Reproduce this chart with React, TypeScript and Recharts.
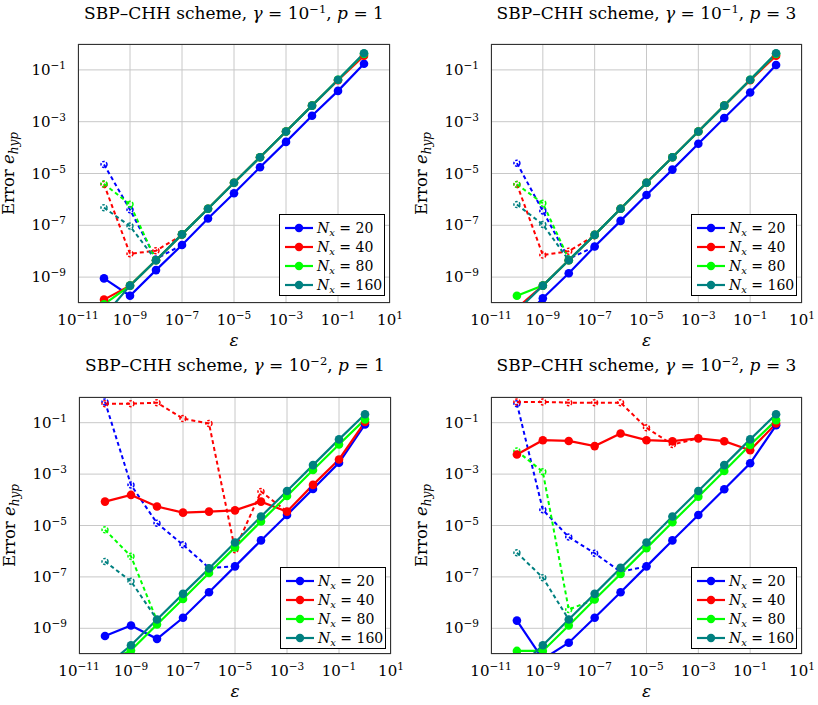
import { LineChart, Line, XAxis, YAxis, CartesianGrid, Legend } from 'recharts';

// eps exponents (x = 10^e)
const EPS_EXP = [-10, -9, -8, -7, -6, -5, -4, -3, -2, -1, 0];
const NX = [20, 40, 80, 160];
const COLORS = ['#0000ff', '#ff0000', '#00ff00', '#008080'];

// all values are log10 of the error
// gamma = 1e-1, p = 1
const G1P1_N20 = [-9.05, -9.72, -8.73, -7.76, -6.74, -5.76, -4.76, -3.78, -2.77, -1.81, -0.76];
const G1P1_N40 = [-9.87, -9.33, -8.35, -7.35, -6.36, -5.36, -4.37, -3.38, -2.38, -1.4, -0.45];
const G1P1_N80 = [-10.05, -9.33, -8.35, -7.35, -6.36, -5.36, -4.37, -3.38, -2.38, -1.38, -0.38];
const G1P1_N160 = [-10.5, -9.33, -8.35, -7.35, -6.36, -5.36, -4.37, -3.38, -2.38, -1.38, -0.36];
const G1P1_D20 = [-4.65, -6.4, -8.3, -7.76, null, null, null, null, null, null, null];
const G1P1_D40 = [-5.42, -8.1, -7.98, -7.38, null, null, null, null, null, null, null];
const G1P1_D80 = [-5.4, -6.19, -8.35, null, null, null, null, null, null, null, null];
const G1P1_D160 = [-6.32, -7.03, -8.35, null, null, null, null, null, null, null, null];

// gamma = 1e-1, p = 3
const G1P3_N20 = [-10.8, -9.82, -8.85, -7.82, -6.83, -5.83, -4.85, -3.85, -2.86, -1.87, -0.81];
const G1P3_N40 = [-10.2, -9.33, -8.35, -7.37, -6.36, -5.36, -4.37, -3.38, -2.38, -1.4, -0.45];
const G1P3_N80 = [-9.72, -9.33, -8.35, -7.37, -6.36, -5.36, -4.37, -3.38, -2.38, -1.38, -0.38];
const G1P3_N160 = [-10.3, -9.33, -8.35, -7.37, -6.36, -5.36, -4.37, -3.38, -2.38, -1.38, -0.36];
const G1P3_D20 = [-4.6, -6.45, -8.3, -7.82, null, null, null, null, null, null, null];
const G1P3_D40 = [-5.42, -8.15, -8.0, -7.4, null, null, null, null, null, null, null];
const G1P3_D80 = [-5.42, -6.15, -8.3, null, null, null, null, null, null, null, null];
const G1P3_D160 = [-6.2, -6.97, -8.35, null, null, null, null, null, null, null, null];

// gamma = 1e-2, p = 1
const G2P1_N20 = [-9.3, -8.89, -9.41, -8.59, -7.6, -6.59, -5.58, -4.59, -3.58, -2.56, -1.07];
const G2P1_N40 = [-4.07, -3.81, -4.26, -4.5, -4.46, -4.41, -4.07, -4.46, -3.42, -2.43, -0.97];
const G2P1_N80 = [-10.33, -9.86, -8.85, -7.86, -6.85, -5.85, -4.84, -3.85, -2.84, -1.85, -0.87];
const G2P1_N160 = [-10.5, -9.66, -8.66, -7.66, -6.67, -5.66, -4.65, -3.66, -2.65, -1.65, -0.67];
const G2P1_D20 = [-0.19, -3.42, -4.91, -5.75, -6.65, -6.59, null, null, null, null, null];
const G2P1_D40 = [-0.26, -0.26, -0.22, -0.84, -1.03, -5.94, -3.68, -4.46, null, null, null];
const G2P1_D80 = [-5.17, -6.2, -8.7, null, null, null, null, null, null, null, null];
const G2P1_D160 = [-6.4, -7.17, -8.66, null, null, null, null, null, null, null, null];

// gamma = 1e-2, p = 3
const G2P3_N20 = [-8.7, -10.2, -9.56, -8.59, -7.6, -6.59, -5.58, -4.59, -3.59, -2.58, -1.1];
const G2P3_N40 = [-2.24, -1.68, -1.71, -1.91, -1.42, -1.68, -1.72, -1.61, -1.72, -2.07, -1.03];
const G2P3_N80 = [-9.88, -9.88, -8.89, -7.88, -6.89, -5.88, -4.87, -3.88, -2.88, -1.87, -0.9];
const G2P3_N160 = [-10.6, -9.66, -8.66, -7.66, -6.65, -5.66, -4.65, -3.66, -2.65, -1.65, -0.67];
const G2P3_D20 = [-0.26, -4.39, -5.45, -6.08, -6.8, -6.59, null, null, null, null, null];
const G2P3_D40 = [-0.19, -0.19, -0.22, -0.22, -0.22, -1.2, -1.85, -1.61, null, null, null];
const G2P3_D80 = [-2.1, -2.91, -8.27, -7.88, null, null, null, null, null, null, null];
const G2P3_D160 = [-6.06, -7.03, -8.66, null, null, null, null, null, null, null, null];

const X_TICKS = [1e-11, 1e-9, 1e-7, 1e-5, 1e-3, 1e-1, 10];
const Y_TICKS = [1e-9, 1e-7, 1e-5, 1e-3, 1e-1];

const FONT = '"DejaVu Serif", "Liberation Serif", serif';
const W = 409;
const H = 352;

const panels = [
  { left: 0, top: 0, gamma: '−1', p: 1, plot: { l: 78, t: 44, r: 19, b: 49 },
    solid: [G1P1_N20, G1P1_N40, G1P1_N80, G1P1_N160], dashed: [G1P1_D20, G1P1_D40, G1P1_D80, G1P1_D160] },
  { left: 409, top: 0, gamma: '−1', p: 3, plot: { l: 82, t: 44, r: 16, b: 49 },
    solid: [G1P3_N20, G1P3_N40, G1P3_N80, G1P3_N160], dashed: [G1P3_D20, G1P3_D40, G1P3_D80, G1P3_D160] },
  { left: 0, top: 352, gamma: '−2', p: 1, plot: { l: 79, t: 45, r: 18, b: 50 },
    solid: [G2P1_N20, G2P1_N40, G2P1_N80, G2P1_N160], dashed: [G2P1_D20, G2P1_D40, G2P1_D80, G2P1_D160] },
  { left: 409, top: 352, gamma: '−2', p: 3, plot: { l: 82, t: 45, r: 16, b: 50 },
    solid: [G2P3_N20, G2P3_N40, G2P3_N80, G2P3_N160], dashed: [G2P3_D20, G2P3_D40, G2P3_D80, G2P3_D160] },
];

const expLabel = (v: number) => {
  const e = Math.round(Math.log10(v));
  return e < 0 ? `−${-e}` : `${e}`;
};

const XTick = ({ x, y, payload }: any) => (
  <text x={x} y={y + 14} textAnchor="middle" fontSize={15} fill="#000" fontFamily={FONT}>
    10<tspan dy={-6} fontSize={10.5}>{expLabel(payload.value)}</tspan>
  </text>
);

const YTick = ({ x, y, payload }: any) => (
  <text x={x - 4} y={y + 5} textAnchor="end" fontSize={15} fill="#000" fontFamily={FONT}>
    10<tspan dy={-6} fontSize={10.5}>{expLabel(payload.value)}</tspan>
  </text>
);

const LegendBox = ({ payload }: any) => {
  const items = (payload || [])
    .filter((it: any) => it.type !== 'none' && !String(it.value).startsWith('d'))
    .sort((a: any, b: any) => Number(a.value) - Number(b.value));
  return (
    <div style={{ border: '1px solid #000', background: '#fff', width: 106, height: 82, boxSizing: 'border-box', padding: '3px 0 0 5px', fontFamily: FONT }}>
      {items.map((it: any) => (
        <div key={it.value} style={{ display: 'flex', alignItems: 'center', height: 19 }}>
          <svg width={28} height={10}>
            <line x1={0} y1={5} x2={28} y2={5} stroke={it.color} strokeWidth={2.2} />
            <circle cx={14} cy={5} r={4.2} fill={it.color} />
          </svg>
          <span style={{ marginLeft: 4, fontSize: 14, color: '#000', whiteSpace: 'nowrap' }}>
            <i>N</i><i style={{ fontSize: 10, position: 'relative', top: 3 }}>x</i> = {it.value}
          </span>
        </div>
      ))}
    </div>
  );
};

function Panel({ cfg }: { cfg: typeof panels[number] }) {
  const { l, t, r, b } = cfg.plot;
  const pw = W - l - r;
  const ph = H - t - b;
  const data = EPS_EXP.map((e, i) => {
    const row: any = { eps: 10 ** e };
    cfg.solid.forEach((s, k) => { row[`s${k}`] = 10 ** s[i]; });
    cfg.dashed.forEach((d, k) => { row[`d${k}`] = d[i] == null ? null : 10 ** (d[i] as number); });
    return row;
  });

  return (
    <div style={{ position: 'absolute', left: cfg.left, top: cfg.top, width: W, height: H, fontFamily: FONT }}>
      <div style={{ position: 'absolute', left: l - 30, width: pw + 60, top: 3, textAlign: 'center', fontSize: 17, lineHeight: '20px', whiteSpace: 'nowrap', color: '#000' }}>
        SBP–CHH scheme, <i>γ</i> = 10<span style={{ fontSize: 11.5, position: 'relative', top: -6 }}>{cfg.gamma}</span>, <i>p</i> = {cfg.p}
      </div>
      <LineChart width={W} height={H} data={data} margin={{ top: t, right: r, left: l - 60, bottom: b - 30 }}>
        <CartesianGrid stroke="#c8c8c8" strokeWidth={1} />
        <XAxis
          dataKey="eps"
          type="number"
          scale="log"
          domain={[1e-11, 10]}
          ticks={X_TICKS}
          allowDataOverflow
          height={30}
          axisLine={false}
          tickLine={false}
          tick={<XTick />}
          interval={0}
        />
        <YAxis
          type="number"
          scale="log"
          domain={[1e-10, 1]}
          ticks={Y_TICKS}
          allowDataOverflow
          width={60}
          axisLine={false}
          tickLine={false}
          tick={<YTick />}
          interval={0}
        />
        <Legend
          layout="horizontal"
          verticalAlign="middle"
          align="center"
          content={<LegendBox />}
          wrapperStyle={{ left: l + pw - 111, top: t + 170, width: 106, height: 82 }}
        />

        {/* dashed companion curves under the solid ones */}
        {cfg.dashed.map((_, k) => (
          <Line
            key={`d${k}`}
            dataKey={`d${k}`}
            name={`d${k}`}
            stroke={COLORS[k]}
            strokeWidth={2}
            strokeDasharray="4 3"
            dot={{ r: 3, fill: 'none', stroke: COLORS[k], strokeWidth: 1.5, strokeDasharray: '2.5 1.5' }}
            legendType="none"
            isAnimationActive={false}
          />
        ))}

        {cfg.solid.map((_, k) => (
          <Line
            key={`s${k}`}
            dataKey={`s${k}`}
            name={`${NX[k]}`}
            stroke={COLORS[k]}
            strokeWidth={2.2}
            dot={{ r: 4.3, fill: COLORS[k], stroke: COLORS[k], strokeWidth: 0 }}
            isAnimationActive={false}
          />
        ))}
      </LineChart>
      {/* frame */}
      <div style={{ position: 'absolute', left: l, top: t, width: pw, height: ph, border: '1px solid #333', boxSizing: 'border-box', pointerEvents: 'none' }} />
      {/* axis labels */}
      <svg style={{ position: 'absolute', left: 0, top: 0, pointerEvents: 'none' }} width={W} height={H}>
        <text
          x={l - 64}
          y={t + ph / 2}
          transform={`rotate(-90, ${l - 64}, ${t + ph / 2})`}
          textAnchor="middle"
          fontSize={16.5}
          fontFamily={FONT}
          fill="#000"
        >
          Error <tspan fontStyle="italic">e</tspan><tspan fontStyle="italic" fontSize={12} dy={4}>hyp</tspan>
        </text>
        <text x={l + pw / 2} y={t + ph + 43} textAnchor="middle" fontSize={17} fontStyle="italic" fontFamily={FONT} fill="#000">ε</text>
      </svg>
    </div>
  );
}

export default function App() {
  return (
    <div style={{ position: 'absolute', left: 0, top: 0, width: 818, height: 705, background: '#fff' }}>
      {panels.map((cfg, i) => <Panel key={i} cfg={cfg} />)}
    </div>
  );
}
